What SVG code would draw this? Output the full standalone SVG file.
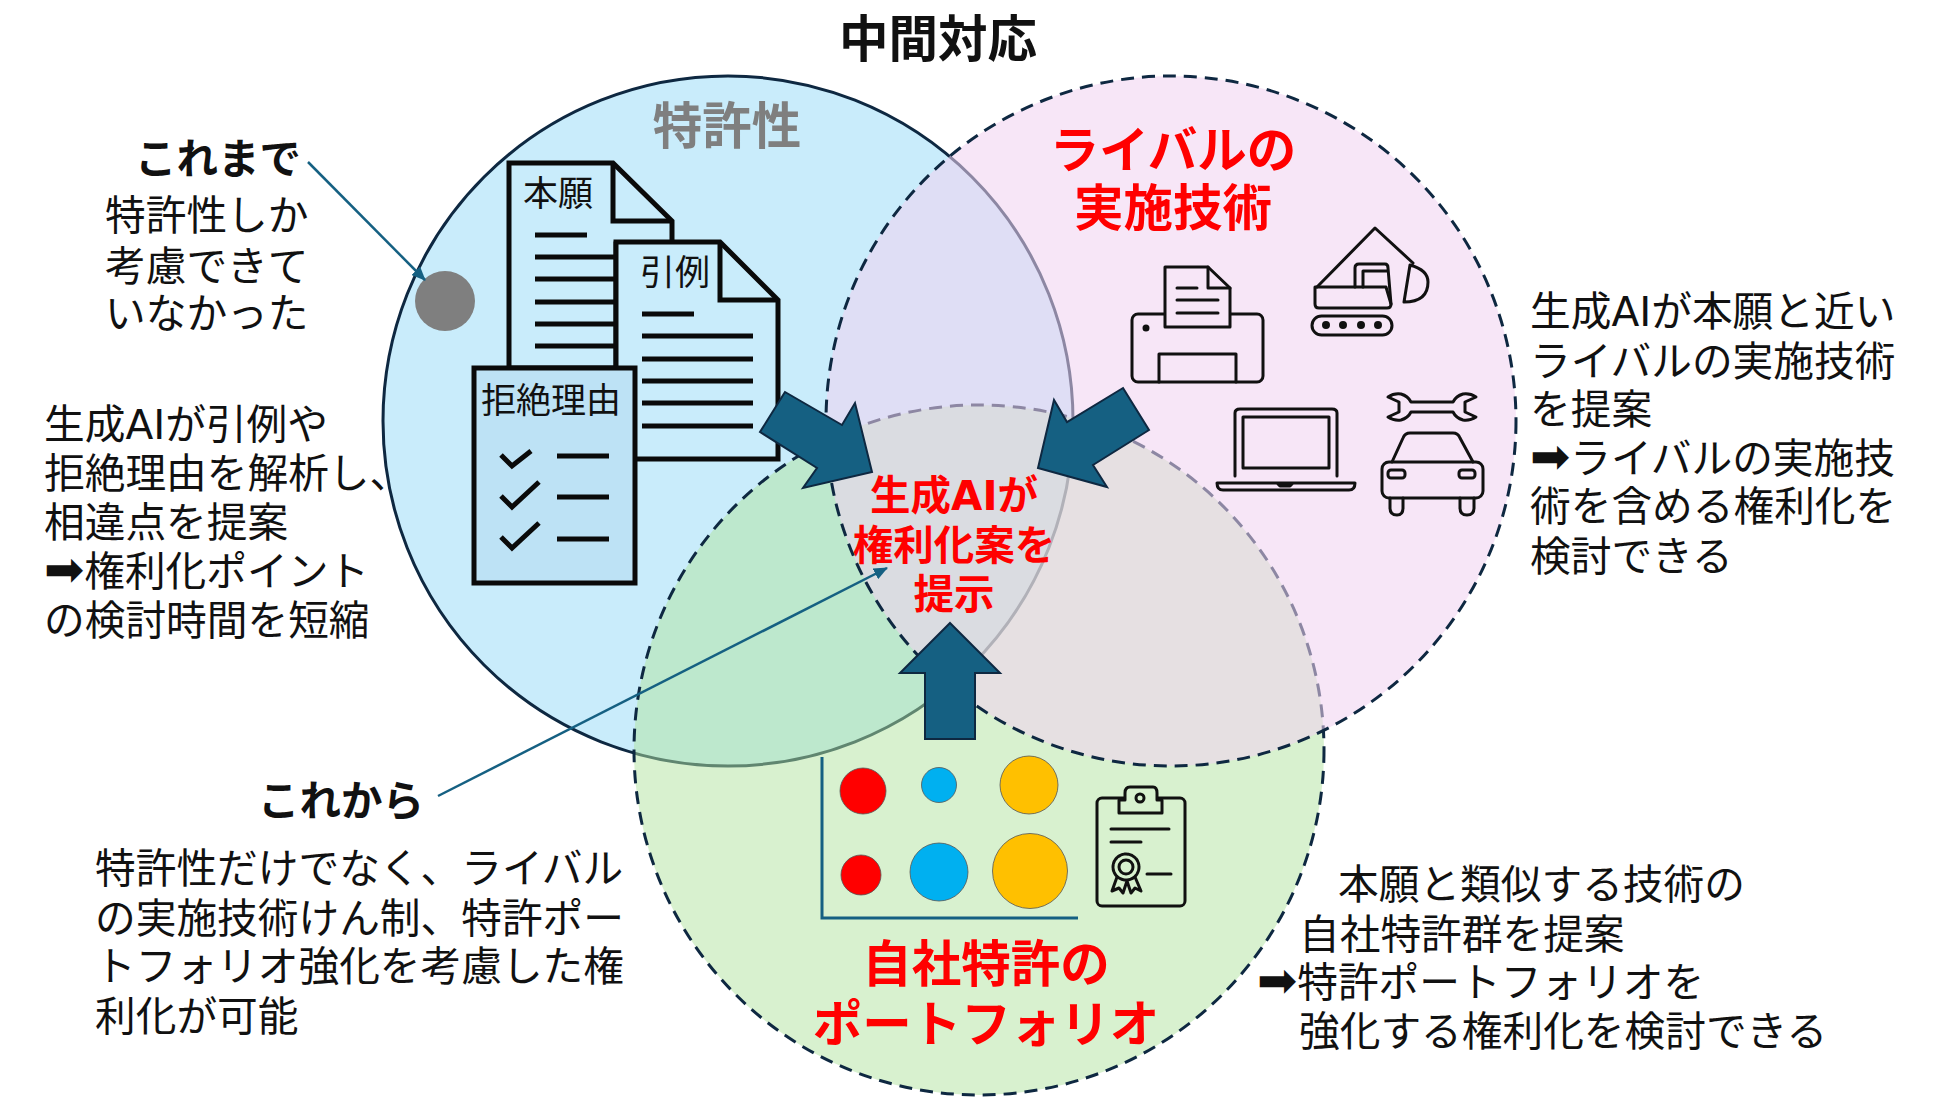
<svg xmlns="http://www.w3.org/2000/svg" width="1950" height="1097" viewBox="0 0 1950 1097">
<style>
text{font-family:"DejaVu Sans","Noto Sans CJK JP",sans-serif;fill:#111}
.b{font-size:40.7px}
.bold{font-size:41.5px;font-weight:700}
.h{font-size:49.5px;font-weight:700;text-anchor:middle}
.red{fill:#f00}
.c{font-size:40.5px;font-weight:700;text-anchor:middle;fill:#f00}
.lab{font-size:35px}
.ar{font-size:48px}
.doc{fill:#c9ecfb;stroke:#0a0a0a;stroke-width:5}
.l5{stroke:#0a0a0a;stroke-width:5;fill:none}
.ic{fill:none;stroke:#111;stroke-width:3;stroke-linejoin:round;stroke-linecap:round}
.ci{stroke:#0e2841;stroke-width:3}
.da{stroke-dasharray:13 8}
.big{fill:#156082;stroke:#0e2841;stroke-width:2}
.lead{stroke:#156082;stroke-width:2.5;fill:none;marker-end:url(#ah)}
.dot{stroke:#555;stroke-width:.8}
</style>
<defs>
<marker id="ah" markerUnits="userSpaceOnUse" markerWidth="14" markerHeight="12" refX="13" refY="6" orient="auto"><path d="M0 0L14 6L0 12Z" fill="#156082"/></marker>
</defs>
<rect width="1950" height="1097" fill="#fff"/>
<g id="circle-patent"><circle class="ci" cx="728" cy="421" r="345" fill="#c9ecfb"/></g>
<g id="circle-portfolio"><circle class="ci da" cx="979" cy="750" r="345" fill="#b1e39f" fill-opacity=".5"/></g>
<g id="circle-rival"><circle class="ci da" cx="1171" cy="421" r="345" fill="#f1d2f1" fill-opacity=".56"/></g>

<g id="doc-application">
<path class="doc" d="M509 368V163H613L672 221V244H616V368Z"/>
<path class="l5" d="M613 163V221H672"/>
<path class="l5" d="M535 235H587M535 257H616M535 279H616M535 302H616M535 324H616M535 346H616"/>
<text class="lab" x="523" y="206">本願</text>
</g>
<g id="doc-citation">
<path class="doc" d="M616 459V242H720L778 300V459Z"/>
<path class="l5" d="M720 242V300H778"/>
<path class="l5" d="M642 314H694M642 336H753M642 359H753M642 381H753M642 403H753M642 426H753"/>
<text class="lab" x="640" y="285">引例</text>
</g>
<g id="doc-reason">
<rect x="474" y="368" width="161" height="215" fill="#bde2f5" stroke="#0a0a0a" stroke-width="5"/>
<text class="lab" x="481" y="413">拒絶理由</text>
<path class="l5" d="M501 455L512 466L531 451M501 496L512 507L539 482M501 537L512 548L539 523M557 456H609M557 497H609M557 539H609"/>
</g>
<g id="dot-now"><circle cx="445" cy="301" r="30" fill="#7f7f7f"/></g>

<g id="icon-printer" class="ic">
<rect x="1132" y="314" width="131" height="68" rx="6"/>
<path fill="#f7e6f7" d="M1165 327V267H1208L1230 288V327Z"/>
<path d="M1208 267V288H1230M1177 288H1197M1177 300H1218M1177 313H1218M1159 382V354H1236V382"/>
<circle cx="1146" cy="328" r="2" fill="#111"/>
</g>
<g id="icon-excavator" class="ic">
<path d="M1317 287L1375 228L1413 263M1410 265L1404 302Q1428 302 1428 282Q1428 270 1410 265Z"/>
<path d="M1315 287H1386L1391 304Q1391 308 1387 308H1319Q1315 308 1315 304Z"/>
<path d="M1355 287V268Q1355 264 1359 264H1385Q1388 264 1388 268L1391 304M1363 287V271H1387"/>
<rect x="1312" y="316" width="80" height="19" rx="9.5"/>
<circle cx="1326" cy="325" r="2.5" fill="#111"/><circle cx="1343" cy="325" r="2.5" fill="#111"/><circle cx="1361" cy="325" r="2.5" fill="#111"/><circle cx="1378" cy="325" r="2.5" fill="#111"/>
</g>
<g id="icon-laptop" class="ic">
<path d="M1235 476V413Q1235 409 1240 409H1332Q1337 409 1337 413V476"/>
<rect x="1243" y="417" width="86" height="51"/>
<path d="M1217 483H1355Q1355 490 1349 490H1223Q1217 490 1217 483ZM1277 483L1280 486H1290L1293 483"/>
</g>
<g id="icon-car" class="ic">
<path d="M1388 397Q1394 393 1401 394Q1408 396 1411 402H1453Q1456 396 1463 394Q1470 393 1476 397L1465 402V412L1476 417Q1470 421 1463 420Q1456 418 1453 412H1411Q1408 418 1401 420Q1394 421 1388 417L1399 412V402Z"/>
<path d="M1392 462L1403 438Q1405 433 1410 433H1453Q1458 433 1460 438L1473 462"/>
<rect x="1382" y="462" width="101" height="36" rx="7"/>
<rect x="1388" y="470" width="17" height="8" rx="3"/>
<rect x="1459" y="470" width="16" height="8" rx="3"/>
<path d="M1390 498V508Q1390 515 1397 515Q1403 515 1403 508V498M1460 498V508Q1460 515 1467 515Q1474 515 1474 508V498"/>
</g>

<g id="chart">
<path d="M822 757V918H1078" fill="none" stroke="#156082" stroke-width="3"/>
<circle class="dot" cx="863" cy="791" r="23" fill="#f00"/>
<circle class="dot" cx="939" cy="785" r="17.5" fill="#00b0f0"/>
<circle class="dot" cx="1029" cy="785" r="29" fill="#ffc000"/>
<circle class="dot" cx="861" cy="875" r="20" fill="#f00"/>
<circle class="dot" cx="939" cy="872" r="29" fill="#00b0f0"/>
<circle class="dot" cx="1030" cy="871" r="37.5" fill="#ffc000"/>
</g>
<g id="icon-certificate" class="ic">
<rect x="1097" y="798" width="88" height="108" rx="5"/>
<path fill="#d8f1cf" d="M1119 813V800H1125V793Q1125 787 1130 787H1153Q1157 787 1157 793V800H1162V813Z"/>
<circle cx="1140" cy="798" r="4"/>
<path d="M1111 829H1169M1111 842H1141M1147 874H1171"/>
<circle cx="1126" cy="867" r="13" stroke-dasharray="3 1"/>
<circle cx="1126" cy="867" r="7"/>
<path d="M1117 877L1112 891L1119 888L1123 893L1127 881L1131 893L1135 888L1141 891L1135 877"/>
</g>

<g id="connectors">
<polygon class="big" points="785,392 760,432 817,468 803,488 872,472 855,403 842,425"/>
<polygon class="big" points="1123,388 1149,430 1093,465 1107,487 1038,468 1054,400 1067,422"/>
<polygon class="big" points="950,623 1000,673 975,673 975,739 925,739 925,673 900,673"/>
<path class="lead" d="M308 162L425 280"/>
<path class="lead" d="M438 796L887 568"/>
</g>

<g id="title"><text class="h" x="938" y="57">中間対応</text></g>
<g id="label-patent"><text class="h" x="727" y="144" style="fill:#7f7f7f">特許性</text></g>
<g id="label-rival"><text class="h red" x="1173" y="168">ライバルの</text><text class="h red" x="1173" y="226">実施技術</text></g>
<g id="label-portfolio"><text class="h red" x="986" y="982">自社特許の</text><text class="h red" x="986" y="1042">ポートフォリオ</text></g>
<g id="label-center"><text class="c" x="954" y="510">生成AIが</text><text class="c" x="954" y="560">権利化案を</text><text class="c" x="954" y="609">提示</text></g>
<g id="text-before">
<text class="b bold" x="135" y="174">これまで</text>
<text class="b"><tspan x="105" y="230">特許性しか</tspan><tspan x="105" y="281">考慮できて</tspan><tspan x="105" y="328">いなかった</tspan></text>
</g>
<g id="text-patent">
<text class="b"><tspan x="44" y="439">生成AIが引例や</tspan><tspan x="44" y="488">拒絶理由を解析し、</tspan><tspan x="44" y="537">相違点を提案</tspan><tspan x="44" y="586" class="ar">➡</tspan><tspan>権利化ポイント</tspan><tspan x="44" y="635">の検討時間を短縮</tspan></text>
</g>
<g id="text-rival">
<text class="b"><tspan x="1530" y="326">生成AIが本願と近い</tspan><tspan x="1530" y="376">ライバルの実施技術</tspan><tspan x="1530" y="424">を提案</tspan><tspan x="1530" y="473" class="ar">➡</tspan><tspan>ライバルの実施技</tspan><tspan x="1530" y="521">術を含める権利化を</tspan><tspan x="1530" y="571">検討できる</tspan></text>
</g>
<g id="text-after">
<text class="b bold" x="258" y="816">これから</text>
<text class="b"><tspan x="95" y="883">特許性だけでなく、ライバル</tspan><tspan x="95" y="933">の実施技術けん制、特許ポー</tspan><tspan x="95" y="981">トフォリオ強化を考慮した権</tspan><tspan x="95" y="1031">利化が可能</tspan></text>
</g>
<g id="text-portfolio">
<text class="b"><tspan x="1338" y="899">本願と類似する技術の</tspan><tspan x="1299" y="949">自社特許群を提案</tspan><tspan x="1257" y="997" class="ar">➡</tspan><tspan>特許ポートフォリオを</tspan><tspan x="1299" y="1046">強化する権利化を検討できる</tspan></text>
</g>
</svg>
